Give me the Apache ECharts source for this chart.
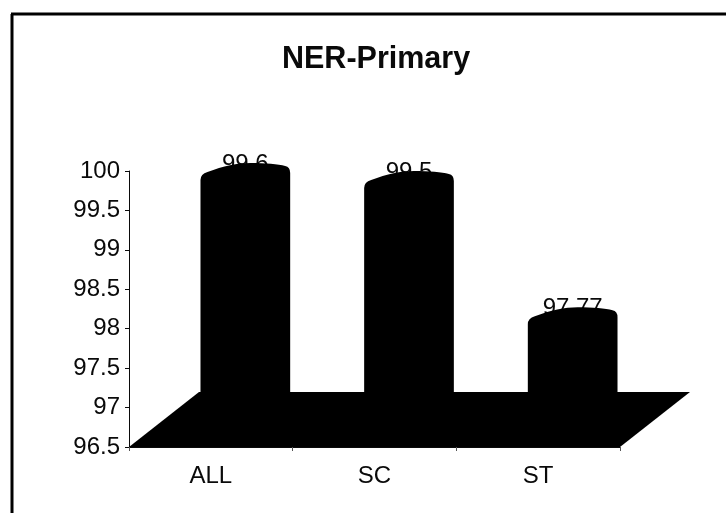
<!DOCTYPE html>
<html><head><meta charset="utf-8">
<style>html,body{margin:0;padding:0;background:#fff}#c{width:726px;height:513px}</style>
<script src="https://cdn.jsdelivr.net/npm/echarts@6/dist/echarts.min.js"></script>
</head><body><div id="c"></div>
<script>
const titleText = 'NER-Primary';
const categories = ['ALL', 'SC', 'ST'];
const values = [99.6, 99.5, 97.77];
const valueLabels = ['99.6', '99.5', '97.77'];
const axisMin = 96.5, axisMax = 100, axisStep = 0.5;
const INK = '#0a0a0a', FONT = '"Liberation Sans", Arial, sans-serif';
// 3D projection of the plot floor
const DEPTH_X = 70, DEPTH_Y = 55;
const chart = echarts.init(document.getElementById('c'), null, {renderer: 'canvas'});
chart.setOption({
  animation: false,
  backgroundColor: '#fff',
  title: {text: titleText, left: 277, top: 39,
    textStyle: {fontFamily: FONT, fontSize: 30.5, fontWeight: 'bold', color: INK}},
  grid: {left: 129, right: 106, top: 171, bottom: 66},
  xAxis: {type: 'category', data: categories,
    axisLine: {lineStyle: {color: INK, width: 1}},
    axisTick: {show: true, length: 4, lineStyle: {color: '#555'}},
    axisLabel: {fontFamily: FONT, fontSize: 24, color: INK, margin: 17}},
  yAxis: {type: 'value', min: axisMin, max: axisMax, interval: axisStep,
    splitLine: {show: false},
    axisLine: {show: true, lineStyle: {color: INK, width: 1}},
    axisTick: {show: true, length: 4, lineStyle: {color: INK}},
    axisLabel: {fontFamily: FONT, fontSize: 24, color: INK, margin: 9}},
  graphic: [
    {type: 'line', silent: true, shape: {x1: 12, y1: 14, x2: 12, y2: 513}, style: {stroke: '#000', lineWidth: 3}},
    {type: 'line', silent: true, shape: {x1: 11, y1: 14, x2: 726, y2: 14}, style: {stroke: '#000', lineWidth: 3}}
  ],
  series: [
    {type: 'custom', z: 1, silent: true, data: [[0, axisMin]],
     encode: {x: 0, y: 1},
     renderItem(params, api) {
       const cs = params.coordSys;
       const y = api.coord([0, axisMin])[1];
       const x0 = cs.x, x1 = cs.x + cs.width;
       return {type: 'polygon', shape: {points: [[x0, y], [x1, y], [x1 + DEPTH_X, y - DEPTH_Y], [x0 + DEPTH_X, y - DEPTH_Y]]},
         style: {fill: '#000'}};
     }},
    {type: 'custom', z: 2, silent: true, data: values.map((v, i) => [i, v]),
     encode: {x: 0, y: 1},
     renderItem(params, api) {
       const i = params.dataIndex;
       const p = api.coord([api.value(0), api.value(1)]);
       const band = api.size([1, 0])[0];
       const hw = band * 0.274;
       const cx = p[0] + DEPTH_X / 2 - 0.5;
       const sy = p[1] - DEPTH_Y / 2 - 2;
       const by = api.coord([i, axisMin])[1] - DEPTH_Y / 2;
       const d = `M${cx - hw} ${by} L${cx - hw} ${sy + 7}`
         + ` Q${cx - hw} ${sy + 1} ${cx - hw + 7} ${sy - 1}`
         + ` C${cx - 22} ${sy - 7} ${cx - 8} ${sy - 10} ${cx + 5} ${sy - 10}`
         + ` C${cx + 20} ${sy - 10} ${cx + 33} ${sy - 9} ${cx + hw - 5} ${sy - 7}`
         + ` Q${cx + hw} ${sy - 6} ${cx + hw} ${sy} L${cx + hw} ${by} Z`;
       return {type: 'group', children: [
         {type: 'text', x: cx, y: sy - 9, style: {text: valueLabels[i], fontFamily: FONT, fontSize: 24, fill: INK, textAlign: 'center', textVerticalAlign: 'middle'}},
         {type: 'path', shape: {pathData: d}, style: {fill: '#000'}}
       ]};
     }}
  ]
});
</script></body></html>
